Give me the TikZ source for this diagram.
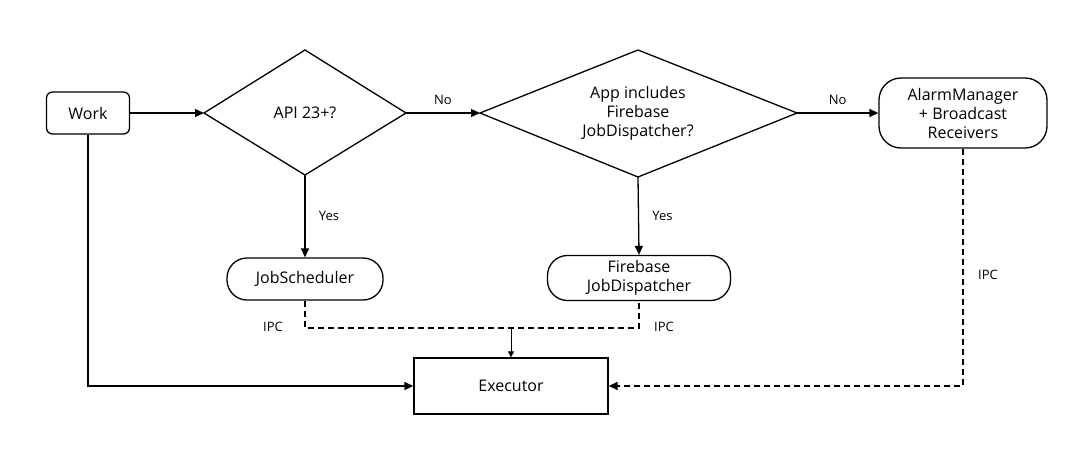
\documentclass[tikz,border=0pt]{standalone}
\usepackage{fontspec}
\setmainfont{Open Sans}
\usetikzlibrary{shapes.geometric,arrows.meta}
\begin{document}
\begin{tikzpicture}[x=1pt,y=-1pt,
  line width=1.3pt, font=\fontsize{16}{19}\selectfont,
  box/.style={draw, align=center, inner sep=0pt},
  pill/.style={box, rounded corners=20pt},
  lab/.style={font=\fontsize{13}{15}\selectfont},
  arr/.style={-{Triangle[length=9pt,width=8pt]}},
  dsh/.style={dash pattern=on 6pt off 4pt}]
\useasboundingbox (0,0) rectangle (1090,456);
\node[box, rounded corners=6pt, minimum width=83pt, minimum height=42pt] (work) at (88,113) {Work};
\node (d1t) at (305,113) {API 23+?};
\draw (204,113) -- (305,50) -- (406,113) -- (305,175) -- cycle;
\coordinate (d1l) at (204,113); \coordinate (d1r) at (406,113); \coordinate (d1b) at (305,175);
\node[align=center] (d2t) at (638,113) {App includes\\Firebase\\JobDispatcher?};
\draw (480,113) -- (638,50) -- (797,113) -- (638,177) -- cycle;
\coordinate (d2l) at (480,113); \coordinate (d2r) at (797,113); \coordinate (d2b) at (638,177);
\node[pill, minimum width=168pt, minimum height=70pt, rounded corners=22pt] (alarm) at (963,113) {AlarmManager\\+ Broadcast\\Receivers};
\node[pill, minimum width=156pt, minimum height=42pt] (js) at (305,279) {JobScheduler};
\node[pill, minimum width=183pt, minimum height=45pt] (fjd) at (639,278) {Firebase\\JobDispatcher};
\node[box, minimum width=194pt, minimum height=56pt] (exec) at (511,386) {Executor};
\draw[arr] (work.east) -- (d1l);
\draw[arr] (d1r) -- node[lab, above=4pt] {No} (d2l);
\draw[arr] (d2r) -- node[lab, above=4pt] {No} (alarm.west);
\draw[arr] (d1b) -- node[lab, right=10pt] {Yes} (js.north);
\draw[arr] (d2b) -- node[lab, right=10pt] {Yes} (fjd.north);
\draw[arr] (work.south) |- (exec.west);
\coordinate (m) at (511,328);
\draw[dsh] (js.south) |- (m) -| (fjd.south);
\draw[-{Triangle[length=6pt,width=6pt]}, line width=1pt] (m) -- (exec.north);
\node[lab] at (273,327) {IPC};
\node[lab] at (664,327) {IPC};
\draw[dsh, arr] (alarm.south) |- (exec.east);
\node[lab] at (988,275) {IPC};
\end{tikzpicture}
\end{document}
